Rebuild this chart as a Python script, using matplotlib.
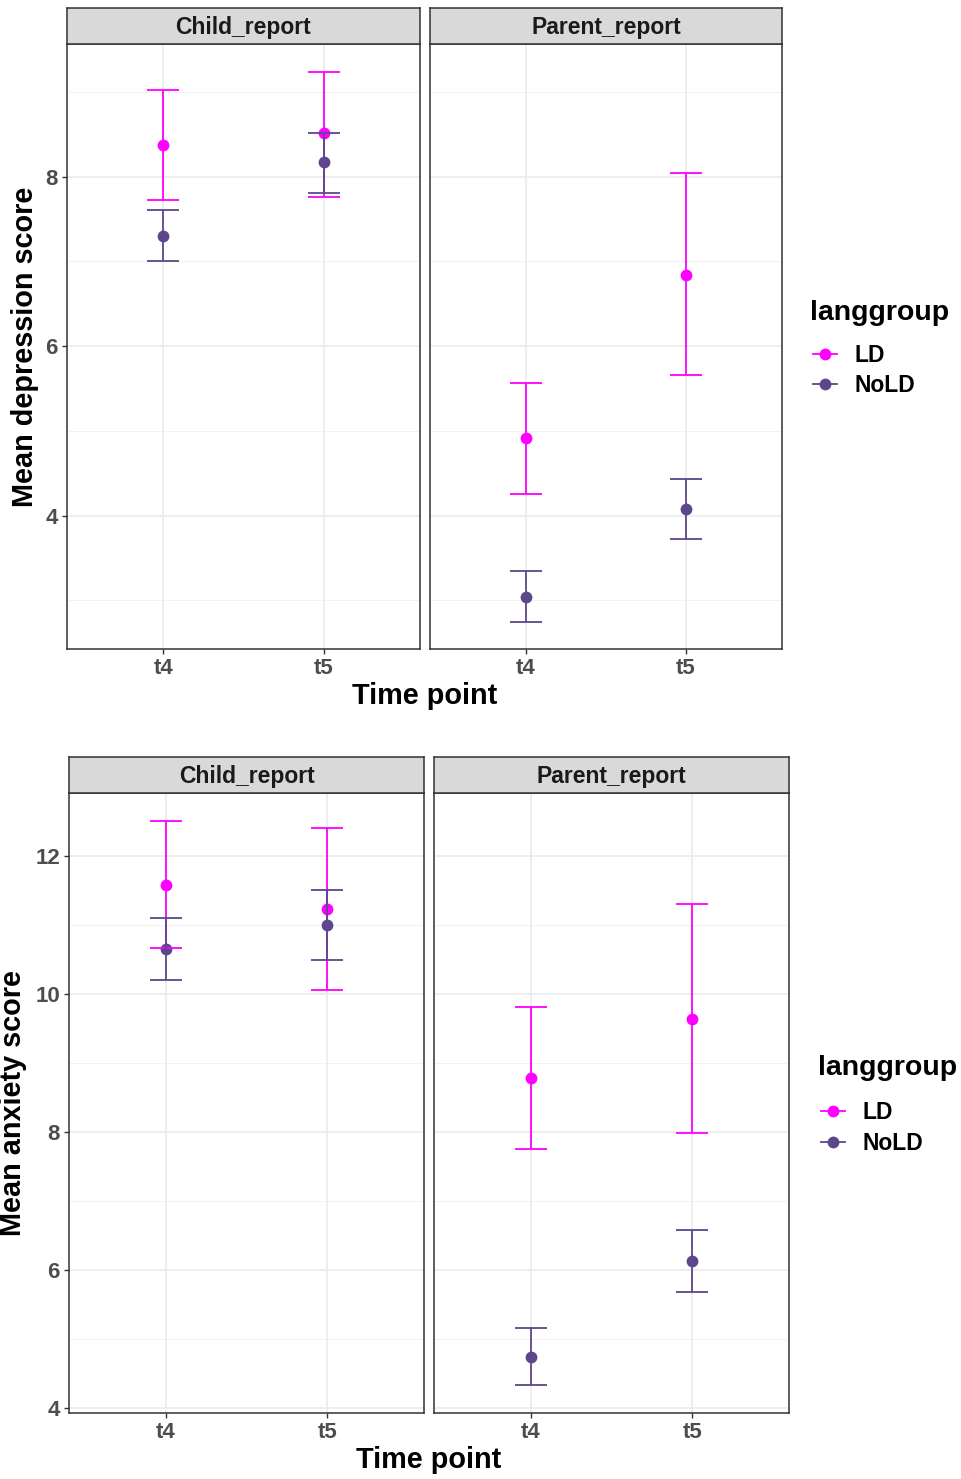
import numpy as np
import matplotlib
matplotlib.use('Agg')
import matplotlib.pyplot as plt
from matplotlib.lines import Line2D

plt.rcParams['font.family'] = ['Liberation Sans', 'DejaVu Sans']

# 数据：行 = Child_report, Parent_report；列 = t4, t5
time_points = ['t4', 't5']
reports = ['Child_report', 'Parent_report']
groups = ['LD', 'NoLD']

# 抑郁得分
dep_ld_mean = [[8.37, 8.51], [4.91, 6.84]]
dep_ld_lo = [[7.72, 7.76], [4.26, 5.66]]
dep_ld_hi = [[9.02, 9.24], [5.57, 8.04]]
dep_nold_mean = [[7.30, 8.17], [3.04, 4.08]]
dep_nold_lo = [[7.00, 7.81], [2.75, 3.72]]
dep_nold_hi = [[7.61, 8.52], [3.35, 4.43]]

# 焦虑得分
anx_ld_mean = [[11.59, 11.23], [8.78, 9.64]]
anx_ld_lo = [[10.67, 10.06], [7.75, 7.99]]
anx_ld_hi = [[12.51, 12.41], [9.81, 11.31]]
anx_nold_mean = [[10.65, 11.00], [4.74, 6.12]]
anx_nold_lo = [[10.20, 10.49], [4.33, 5.68]]
anx_nold_hi = [[11.10, 11.51], [5.15, 6.57]]

colors = {'LD': '#FF00FF', 'NoLD': '#5D478B'}
W, H = 962, 1479

fig = plt.figure(figsize=(W / 100, H / 100), dpi=100)


def px_axes(l, t, r, b):
    return fig.add_axes([l / W, 1 - b / H, (r - l) / W, (b - t) / H])


def draw_block(panels, strip_top, data, yticks, ylabel, ylabel_x, xlabel_y, legend_pos):
    ld_mean, ld_lo, ld_hi, nold_mean, nold_lo, nold_hi = data
    lo_all = np.concatenate([np.ravel(ld_lo), np.ravel(nold_lo)])
    hi_all = np.concatenate([np.ravel(ld_hi), np.ravel(nold_hi)])
    pad = (hi_all.max() - lo_all.min()) * 0.05
    ylim = (lo_all.min() - pad, hi_all.max() + pad)
    step = yticks[1] - yticks[0]
    minor = [yticks[0] - step / 2] + [v + step / 2 for v in yticks]
    x = np.arange(1, len(time_points) + 1)

    for i, (l, t, r, b) in enumerate(panels):
        ax = px_axes(l, t, r, b)
        ax.set_xlim(0.4, 2.6)
        ax.set_ylim(*ylim)
        for m in minor:
            ax.axhline(m, color='#F2F2F2', lw=0.7, zorder=0)
        for yt in yticks:
            ax.axhline(yt, color='#EBEBEB', lw=1.2, zorder=0)
        for xv in x:
            ax.axvline(xv, color='#EBEBEB', lw=1.2, zorder=0)

        series = [('LD', ld_mean[i], ld_lo[i], ld_hi[i]),
                  ('NoLD', nold_mean[i], nold_lo[i], nold_hi[i])]
        # 先画点，再画误差线
        for g, mean, lo, hi in series:
            ax.plot(x, mean, 'o', color=colors[g], ms=8.5, zorder=2, mec='none')
        for g, mean, lo, hi in series:
            ax.vlines(x, lo, hi, color=colors[g], lw=1.3, zorder=3)
            ax.hlines(lo, x - 0.1, x + 0.1, color=colors[g], lw=1.3, zorder=3)
            ax.hlines(hi, x - 0.1, x + 0.1, color=colors[g], lw=1.3, zorder=3)

        ax.set_xticks(x)
        ax.set_xticklabels(time_points)
        ax.set_yticks(yticks)
        if i == 0:
            ax.set_yticklabels([str(v) for v in yticks])
        else:
            ax.tick_params(axis='y', left=False, labelleft=False)
        ax.tick_params(length=3.5, width=1, color='#333333', pad=3,
                       labelsize=16, labelcolor='#4D4D4D')
        for lab in ax.get_xticklabels() + ax.get_yticklabels():
            lab.set_fontweight('bold')
        for sp in ax.spines.values():
            sp.set_color('#333333')
            sp.set_linewidth(1.1)

        # 分面标签
        sax = px_axes(l, strip_top, r, t)
        sax.set_facecolor('#D9D9D9')
        sax.set_xticks([])
        sax.set_yticks([])
        for sp in sax.spines.values():
            sp.set_color('#333333')
            sp.set_linewidth(1.1)
        sax.text(0.5, 0.45, reports[i], transform=sax.transAxes, ha='center', va='center',
                 fontsize=16.5, fontweight='bold', color='#1A1A1A')

    t, b = panels[0][1], panels[0][3]
    fig.text(ylabel_x / W, 1 - (t + b) / 2 / H, ylabel, rotation=90, ha='center', va='center',
             fontsize=20.8, fontweight='bold')
    xc = (panels[0][0] + panels[1][2]) / 2
    fig.text(xc / W, 1 - xlabel_y / H, 'Time point', ha='center', va='center',
             fontsize=20.8, fontweight='bold')

    # 图例：标题单独放置
    tx, ty, ly, sp_ = legend_pos
    fig.text(tx / W, 1 - ty / H, 'langgroup', ha='left', va='center',
             fontsize=20.5, fontweight='bold')
    handles = [Line2D([], [], color=colors[g], marker='o', ms=8.5, lw=1.3, mec='none') for g in groups]
    fig.legend(handles, groups, loc='upper left',
               bbox_to_anchor=((tx + 3) / W, 1 - ly / H),
               frameon=False, prop={'size': 16.5, 'weight': 'bold'},
               handlelength=1.05, handletextpad=0.75, labelspacing=sp_,
               borderpad=0, borderaxespad=0)


draw_block([(67, 44, 420, 649), (430, 44, 782, 649)], 8,
           (dep_ld_mean, dep_ld_lo, dep_ld_hi, dep_nold_mean, dep_nold_lo, dep_nold_hi),
           [4, 6, 8], 'Mean depression score', 25, 696, (810, 313, 344, 0.3))

draw_block([(69, 793, 424, 1413), (434, 793, 789, 1413)], 757,
           (anx_ld_mean, anx_ld_lo, anx_ld_hi, anx_nold_mean, anx_nold_lo, anx_nold_hi),
           [4, 6, 8, 10, 12], 'Mean anxiety score', 13, 1460, (818, 1068, 1101, 0.33))

fig.savefig('out.png', dpi=100)
